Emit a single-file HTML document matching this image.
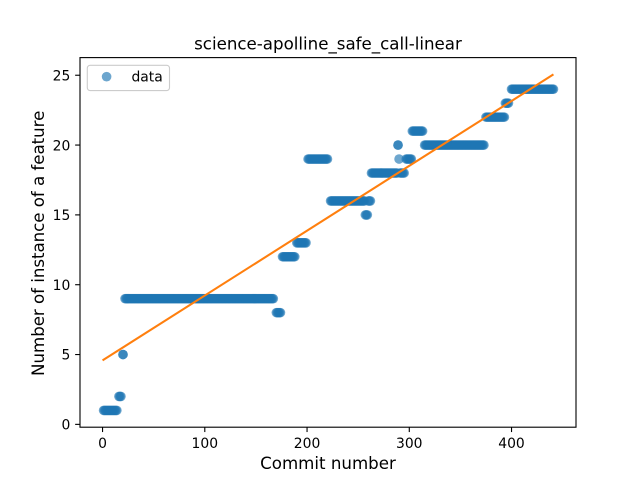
<!DOCTYPE html>
<html>
<head>
<meta charset="utf-8">
<title>science-apolline_safe_call-linear</title>
<style>
html,body{margin:0;padding:0;background:#fff;}
svg{display:block;}
text{font-family:"DejaVu Sans","Liberation Sans",sans-serif;fill:#000;}
</style>
</head>
<body>
<svg id="chart" width="640" height="480" viewBox="0 0 640 480" xmlns="http://www.w3.org/2000/svg">
  <rect x="0" y="0" width="640" height="480" fill="#fff"/>
  <g id="points"></g>
  <polyline id="fit" fill="none" stroke="#ff7f0e" stroke-width="2.08"/>
  <g id="xticks"></g>
  <g id="yticks"></g>
  <rect x="80" y="57.6" width="496" height="369.6" fill="none" stroke="#000" stroke-width="1.11"/>
  <text x="328" y="49.3" font-size="16.67" text-anchor="middle">science-apolline_safe_call-linear</text>
  <text x="328" y="469" font-size="16.67" text-anchor="middle">Commit number</text>
  <text transform="translate(44 243.3) rotate(-90)" font-size="16.67" text-anchor="middle" textLength="265.3" lengthAdjust="spacing">Number of instance of a feature</text>
  <g>
    <rect x="87.3" y="65.3" width="82.2" height="25.3" rx="2.8" ry="2.8" fill="#fff" fill-opacity="0.8" stroke="#ccc" stroke-width="1.11"/>
    <circle cx="106.6" cy="76.7" r="4.8" fill="#1f77b4" fill-opacity="0.65"/>
    <text x="131.5" y="81.4" font-size="13.89">data</text>
  </g>
</svg>
<script>
// Index of each entry is the commit number; null = no point read at that commit.
const counts = [
null,1,1,1,1,1,1,1,1,1,
1,1,1,1,1,null,2,2,2,null,
5,null,9,9,9,9,9,9,9,9,
9,9,9,9,9,9,9,9,9,9,
9,9,9,9,9,9,9,9,9,9,
9,9,9,9,9,9,9,9,9,9,
9,9,9,9,9,9,9,9,9,9,
9,9,9,9,9,9,9,9,9,9,
9,9,9,9,9,9,9,9,9,9,
9,9,9,9,9,9,9,9,9,9,
9,9,9,9,9,9,9,9,9,9,
9,9,9,9,9,9,9,9,9,9,
9,9,9,9,9,9,9,9,9,9,
9,9,9,9,9,9,9,9,9,9,
9,9,9,9,9,9,9,9,9,9,
9,9,9,9,9,9,9,9,9,9,
9,9,9,9,9,9,9,9,null,null,
8,8,8,8,8,null,12,12,12,12,
12,12,12,12,12,12,12,12,12,null,
13,13,13,13,13,13,13,13,13,13,
null,19,19,19,19,19,19,19,19,19,
19,19,19,19,19,19,19,19,19,19,
19,null,null,16,16,16,16,16,16,16,
16,16,16,16,16,16,16,16,16,16,
16,16,16,16,16,16,16,16,16,16,
16,16,16,16,16,16,16,15,15,15,
16,16,16,18,18,18,18,18,18,18,
18,18,18,18,18,18,18,18,18,18,
18,18,18,18,18,18,18,18,18,20,
19,18,18,18,18,18,null,19,19,19,
19,19,19,21,21,21,21,21,21,21,
21,21,21,21,null,20,20,20,20,20,
20,20,20,20,20,20,20,20,20,20,
20,20,20,20,20,20,20,20,20,20,
20,20,20,20,20,20,20,20,20,20,
20,20,20,20,20,20,20,20,20,20,
20,20,20,20,20,20,20,20,20,20,
20,20,20,20,null,22,22,22,22,22,
22,22,22,22,22,22,22,22,22,22,
22,22,22,22,23,23,23,23,null,null,
24,24,24,24,24,24,24,24,24,24,
24,24,24,24,24,24,24,24,24,24,
24,24,24,24,24,24,24,24,24,24,
24,24,24,24,24,24,24,24,24,24,
24,24
];
// Isolated marks that read darker in the picture: two points overlap there.
const repeatCommits = [20, 289];
const repeatCounts = [5, 20];
const fitCommits = [0, 441];
const fitCounts = [4.58, 25.06];
const xTickLabels = [0, 100, 200, 300, 400];
const yTickLabels = [0, 5, 10, 15, 20, 25];

const NS = 'http://www.w3.org/2000/svg';
const plot = { left: 80, right: 576, top: 57.6, bottom: 427.2 };
const xDomain = [-22.05, 463.05];
const yDomain = [-0.203, 26.263];

function xScale(v) {
  return plot.left + (v - xDomain[0]) / (xDomain[1] - xDomain[0]) * (plot.right - plot.left);
}
function yScale(v) {
  return plot.bottom - (v - yDomain[0]) / (yDomain[1] - yDomain[0]) * (plot.bottom - plot.top);
}
function make(tag, attrs, parent) {
  const el = document.createElementNS(NS, tag);
  Object.keys(attrs).forEach(function (k) { el.setAttribute(k, attrs[k]); });
  parent.appendChild(el);
  return el;
}

const pointsGroup = document.getElementById('points');
function drawPoint(commit, value) {
  const dot = make('circle', {
    cx: xScale(commit), cy: yScale(value), r: 4.8,
    fill: '#1f77b4', 'fill-opacity': 0.65
  }, pointsGroup);
  
  
}
counts.forEach(function (value, commit) {
  if (value !== null) drawPoint(commit, value);
});
repeatCommits.forEach(function (commit, i) {
  drawPoint(commit, repeatCounts[i]);
});

document.getElementById('fit').setAttribute('points', fitCommits.map(function (c, i) {
  return xScale(c) + ',' + yScale(fitCounts[i]);
}).join(' '));

const xGroup = document.getElementById('xticks');
xTickLabels.forEach(function (label) {
  const x = xScale(label);
  const tick = make('line', { x1: x, x2: x, y1: plot.bottom, y2: plot.bottom + 4.86, stroke: '#000', 'stroke-width': 1.11 }, xGroup);
  
  
  const txt = make('text', { x: x, y: 448, 'font-size': 13.89, 'text-anchor': 'middle' }, xGroup);
  txt.textContent = label;
  
  
});

const yGroup = document.getElementById('yticks');
yTickLabels.forEach(function (label) {
  const y = yScale(label);
  const tick = make('line', { x1: plot.left, x2: plot.left - 4.86, y1: y, y2: y, stroke: '#000', 'stroke-width': 1.11 }, yGroup);
  
  
  const txt = make('text', { x: 70.3, y: y + 5.2, 'font-size': 13.89, 'text-anchor': 'end' }, yGroup);
  txt.textContent = label;
  
  
});
</script>
</body>
</html>
